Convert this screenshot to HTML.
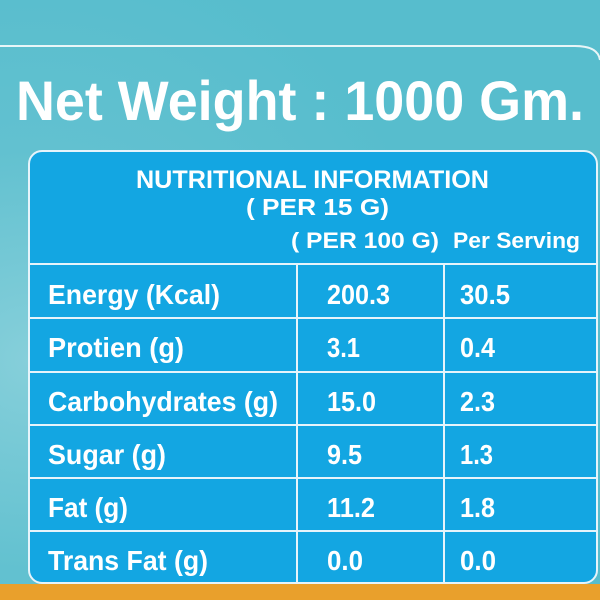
<!DOCTYPE html>
<html><head><meta charset="utf-8"><style>
html,body{margin:0;padding:0;width:600px;height:600px;overflow:hidden;background:#5cbfcf}
svg{display:block}
text{font-family:"Liberation Sans Narrow","Liberation Sans",sans-serif;font-weight:bold;fill:#fff}
</style></head><body>
<svg width="600" height="600" viewBox="0 0 600 600">
<defs><radialGradient id="bg" cx="0.05" cy="0.6" r="0.7"><stop offset="0" stop-color="#86cfda"/><stop offset="0.5" stop-color="#62c1d0"/><stop offset="1" stop-color="#57bdcd"/></radialGradient></defs>
<rect width="600" height="600" fill="url(#bg)"/>
<path d="M0 46 H575 Q598 46 600 60" fill="none" stroke="#e8f6f8" stroke-width="2"/>
<text x="16" y="120" font-size="56" textLength="568" lengthAdjust="spacingAndGlyphs">Net Weight : 1000 Gm.</text>
<rect x="0" y="584" width="600" height="16" fill="#e9a02c"/>
<rect x="29" y="151" width="568" height="432" rx="13" fill="#13a6e2" stroke="#e6f4fb" stroke-width="2"/>
<text x="136" y="188" font-size="25" textLength="353" lengthAdjust="spacingAndGlyphs">NUTRITIONAL INFORMATION</text>
<text x="246" y="215" font-size="23" textLength="143" lengthAdjust="spacingAndGlyphs">( PER 15 G)</text>
<text x="291" y="248" font-size="22" textLength="148" lengthAdjust="spacingAndGlyphs">( PER 100 G)</text>
<text x="453" y="248" font-size="22" textLength="127" lengthAdjust="spacingAndGlyphs">Per Serving</text>
<g stroke="#e6f4fb" stroke-width="2">
<line x1="29" y1="264" x2="597" y2="264"/><line x1="29" y1="318" x2="597" y2="318"/><line x1="29" y1="372" x2="597" y2="372"/><line x1="29" y1="425" x2="597" y2="425"/><line x1="29" y1="478" x2="597" y2="478"/><line x1="29" y1="531" x2="597" y2="531"/>
<line x1="297" y1="264" x2="297" y2="583"/><line x1="444" y1="264" x2="444" y2="583"/>
</g>
<g font-size="28">
<text x="48" y="304" textLength="172" lengthAdjust="spacingAndGlyphs">Energy (Kcal)</text>
<text x="327" y="304" textLength="63" lengthAdjust="spacingAndGlyphs">200.3</text>
<text x="460" y="304" textLength="50" lengthAdjust="spacingAndGlyphs">30.5</text>
<text x="48" y="357" textLength="136" lengthAdjust="spacingAndGlyphs">Protien (g)</text>
<text x="327" y="357" textLength="33" lengthAdjust="spacingAndGlyphs">3.1</text>
<text x="460" y="357" textLength="35" lengthAdjust="spacingAndGlyphs">0.4</text>
<text x="48" y="411" textLength="230" lengthAdjust="spacingAndGlyphs">Carbohydrates (g)</text>
<text x="327" y="411" textLength="49" lengthAdjust="spacingAndGlyphs">15.0</text>
<text x="460" y="411" textLength="35" lengthAdjust="spacingAndGlyphs">2.3</text>
<text x="48" y="464" textLength="118" lengthAdjust="spacingAndGlyphs">Sugar (g)</text>
<text x="327" y="464" textLength="35" lengthAdjust="spacingAndGlyphs">9.5</text>
<text x="460" y="464" textLength="33" lengthAdjust="spacingAndGlyphs">1.3</text>
<text x="48" y="517" textLength="80" lengthAdjust="spacingAndGlyphs">Fat (g)</text>
<text x="327" y="517" textLength="48" lengthAdjust="spacingAndGlyphs">11.2</text>
<text x="460" y="517" textLength="35" lengthAdjust="spacingAndGlyphs">1.8</text>
<text x="48" y="570" textLength="160" lengthAdjust="spacingAndGlyphs">Trans Fat (g)</text>
<text x="327" y="570" textLength="36" lengthAdjust="spacingAndGlyphs">0.0</text>
<text x="460" y="570" textLength="36" lengthAdjust="spacingAndGlyphs">0.0</text>
</g>
</svg>
</body></html>
